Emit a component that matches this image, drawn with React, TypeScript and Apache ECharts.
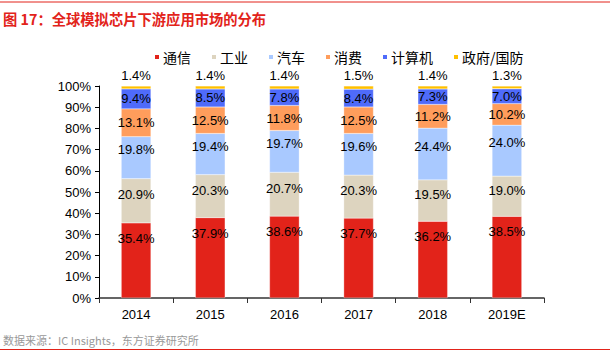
import React, { useEffect, useRef } from "react";
import * as echarts from "echarts";

const categories = ["2014", "2015", "2016", "2017", "2018", "2019E"];
const seriesNames = ["通信", "工业", "汽车", "消费", "计算机", "政府/国防"];
const tongxin = [35.4, 37.9, 38.6, 37.7, 36.2, 38.5];
const gongye = [20.9, 20.3, 20.7, 20.3, 19.5, 19.0];
const qiche = [19.8, 19.4, 19.7, 19.6, 24.4, 24.0];
const xiaofei = [13.1, 12.5, 11.8, 12.5, 11.2, 10.2];
const jisuanji = [9.4, 8.5, 7.8, 8.4, 7.3, 7.0];
const zhengfu = [1.4, 1.4, 1.4, 1.5, 1.4, 1.3];
const colors = ["#E2231A", "#DDD4BF", "#A9C9FF", "#FF9D5C", "#4F6BFA", "#FFC000"];
const yTicks = [0, 10, 20, 30, 40, 50, 60, 70, 80, 90, 100];

export default function App() {
  const ref = useRef<HTMLDivElement>(null);
  useEffect(() => {
    const chart = echarts.init(ref.current!, null, { renderer: "svg" });
    const data = [tongxin, gongye, qiche, xiaofei, jisuanji, zhengfu];
    const font = "'Liberation Sans', Arial, sans-serif";
    const labelPos = ["insideTop", "inside", "inside", "inside", "inside", "top"];
    const labelOffset = [[0, 0], [0, -6], [0, -8], [0, 0], [0, 0], [0, 0]];
    const labelDist = [9, 0, 0, 0, 0, 4];
    chart.setOption({
      animation: false,
      textStyle: { fontFamily: font },
      graphic: [
        { type: "line", shape: { x1: 0, y1: 2, x2: 610, y2: 2 }, style: { stroke: "#E2231A", lineWidth: 1 } },
        { type: "text", left: 3, top: 11, style: { text: "图 17：全球模拟芯片下游应用市场的分布", fill: "#E2231A", font: "bold 14.3px 'Noto Sans CJK SC', sans-serif" } },
        { type: "text", left: 3, top: 334, style: { text: "数据来源：IC Insights，东方证券研究所", fill: "#999999", font: "11px 'Noto Sans CJK SC', sans-serif" } },
        { type: "line", shape: { x1: 0, y1: 349.5, x2: 610, y2: 349.5 }, style: { stroke: "#E2231A", lineWidth: 1 } },
      ],
      legend: {
        data: seriesNames,
        top: 45,
        left: 148,
        itemWidth: 6,
        itemHeight: 6,
        itemGap: 19,
        icon: "rect",
        textStyle: { fontSize: 14, color: "#000", fontFamily: "'Noto Sans CJK SC', sans-serif", padding: [0, 0, 0, -2] },
      },
      grid: { left: 99, right: 66, top: 86, bottom: 54 },
      xAxis: {
        type: "category",
        data: categories,
        axisLine: { lineStyle: { color: "#333", width: 1.5 } },
        axisTick: { show: true, alignWithLabel: false, length: 5, lineStyle: { color: "#333" } },
        axisLabel: { color: "#000", fontSize: 13, margin: 10 },
      },
      yAxis: {
        type: "value",
        min: 0,
        max: 100,
        interval: 10,
        axisLine: { show: true, lineStyle: { color: "#000", width: 1 } },
        axisTick: { show: true, length: 4, lineStyle: { color: "#000" } },
        splitLine: { show: false },
        axisLabel: { color: "#000", fontSize: 13, margin: 8, formatter: (v: number) => (yTicks.includes(v) ? v + "%" : "") },
      },
      series: seriesNames.map((name, i) => ({
        name,
        type: "bar",
        stack: "total",
        barWidth: "40%",
        data: data[i],
        itemStyle: { color: colors[i], borderColor: "#fff", borderWidth: 0.3 },
        label: {
          show: true,
          position: labelPos[i],
          distance: labelDist[i],
          offset: labelOffset[i],
          color: "#000",
          fontSize: 13,
          formatter: (p: any) => p.value.toFixed(1) + "%",
        },
      })),
    });
    return () => chart.dispose();
  }, []);
  return <div ref={ref} style={{ width: 610, height: 352, position: "absolute", left: 0, top: 0 }} />;
}
